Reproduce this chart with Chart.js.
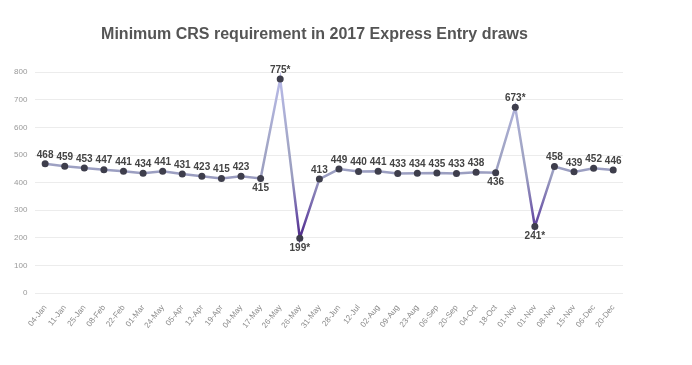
<!DOCTYPE html>
<html>
<head>
<meta charset="utf-8">
<script src="https://cdn.jsdelivr.net/npm/chart.js@4.4.1/dist/chart.umd.min.js"></script>
<style>
	html, body { margin: 0; padding: 0; background: #ffffff; }
	#wrap { width: 692px; height: 365px; }
</style>
</head>
<body>
<div id="wrap"><canvas id="crsChart" width="692" height="365"></canvas></div>
<script>
// draw dates (as printed on the original axis)
const drawDates = ['04-Jan', '11-Jan', '25-Jan', '08-Feb', '22-Feb', '01-Mar', '24-May', '05-Apr', '12-Apr', '19-Apr',
	'04-May', '17-May', '26-May', '26-May', '31-May', '28-Jun', '12-Jul', '02-Aug', '09-Aug', '23-Aug',
	'06-Sep', '20-Sep', '04-Oct', '18-Oct', '01-Nov', '01-Nov', '08-Nov', '15-Nov', '06-Dec', '20-Dec'];
// minimum CRS score per draw
const minScores = [468, 459, 453, 447, 441, 434, 441, 431, 423, 415,
	423, 415, 775, 199, 413, 449, 440, 441, 433, 434,
	435, 433, 438, 436, 673, 241, 458, 439, 452, 446];
// draws marked with an asterisk (program-specific draws)
const starredDraws = [12, 13, 24, 25];
const yTicks = [0, 100, 200, 300, 400, 500, 600, 700, 800];

// labels that sit under their point instead of above
const labelsBelow = [11, 13, 23, 25];

const valueLabelPlugin = {
	id: 'valueLabels',
	afterDatasetsDraw(chart) {
		const ctx = chart.ctx;
		const meta = chart.getDatasetMeta(0);
		ctx.save();
		ctx.font = 'bold 10px "Liberation Sans", Arial, sans-serif';
		ctx.fillStyle = '#444444';
		ctx.textAlign = 'center';
		ctx.textBaseline = 'middle';
		meta.data.forEach((pt, i) => {
			let txt = String(minScores[i]);
			if (starredDraws.includes(i)) txt += '*';
			const dy = labelsBelow.includes(i) ? 10 : -9;
			ctx.fillText(txt, pt.x, pt.y + dy);
		});
		ctx.restore();
	}
};

function lineGradient(context) {
	const chart = context.chart;
	const area = chart.chartArea;
	if (!area) return '#9ea3c4';
	const y = chart.scales.y;
	const g = chart.ctx.createLinearGradient(0, y.getPixelForValue(800), 0, y.getPixelForValue(190));
	g.addColorStop(0, '#b9bbea');
	g.addColorStop(0.45, '#a2a6c6');
	g.addColorStop(0.62, '#9a9dc0');
	g.addColorStop(0.85, '#6c55a8');
	g.addColorStop(1, '#4a2384');
	return g;
}

const ctx = document.getElementById('crsChart').getContext('2d');
new Chart(ctx, {
	type: 'line',
	data: {
		labels: drawDates,
		datasets: [
			{
				data: minScores,
				borderColor: lineGradient,
				borderWidth: 2.5,
				tension: 0,
				pointRadius: 3.5,
				pointBackgroundColor: '#3e3e4c',
				pointBorderWidth: 0,
				fill: false,
			},
		],
	},
	options: {
		responsive: false,
		animation: false,
		layout: {
			padding: { top: 14, left: 6, right: 69, bottom: 33 },
		},
		plugins: {
			legend: { display: false },
			tooltip: { enabled: false },
			title: {
				display: true,
				text: 'Minimum CRS requirement in 2017 Express Entry draws',
				color: '#555555',
				font: { family: '"Liberation Sans", Arial, sans-serif', size: 16, weight: 'bold' },
				padding: { top: 11, bottom: 28 },
			},
		},
		scales: {
			x: {
				offset: true,
				grid: { display: false },
				border: { display: false },
				ticks: {
					color: '#8a8a8a',
					font: { family: '"Liberation Sans", Arial, sans-serif', size: 8 },
					minRotation: 52,
					maxRotation: 52,
					autoSkip: false,
					padding: 2,
				},
			},
			y: {
				min: 0,
				max: 800,
				afterBuildTicks: (axis) => { axis.ticks = yTicks.map(v => ({ value: v })); },
				grid: { color: '#ececec', drawTicks: false },
				border: { display: false },
				ticks: {
					color: '#999999',
					font: { family: '"Liberation Sans", Arial, sans-serif', size: 8 },
					padding: 8,
				},
			},
		},
	},
	plugins: [valueLabelPlugin],
});
</script>
</body>
</html>
